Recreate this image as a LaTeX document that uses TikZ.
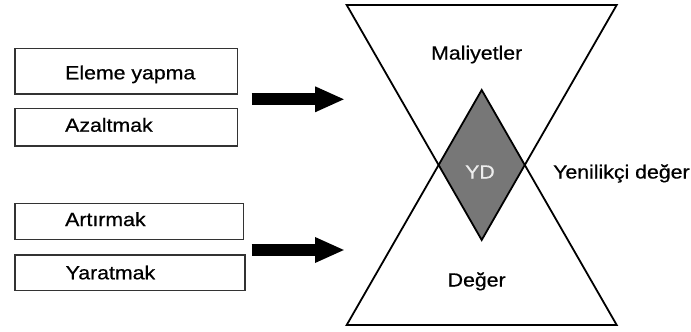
\documentclass[tikz,border=0pt]{standalone}
\usepackage{fontspec}
\setmainfont[FakeStretch=1.12,FakeBold=0.6]{Liberation Sans}
\usetikzlibrary{arrows.meta}
\definecolor{diamondgray}{HTML}{777777}
\definecolor{boxline}{HTML}{333333}
\tikzset{
  labelbox/.style={draw=boxline, line width=1.3pt, fill=white},
  boxtext/.style={anchor=base west, inner sep=0pt, font=\fontsize{19}{21}\selectfont},
  bigtext/.style={anchor=base, inner sep=0pt, font=\fontsize{19}{21}\selectfont},
  fatarrow/.style={line width=12pt, -{Triangle[length=30pt,width=23.5pt]}, shorten >=0pt},
  triline/.style={line width=1.8pt, line join=miter},
}
\begin{document}
\begin{tikzpicture}[x=1pt,y=-1pt]
\useasboundingbox (0,0) rectangle (691,332);
% boxes
\draw[labelbox] (15,48.3) rectangle (237.3,94);
\draw[labelbox] (15,108.3) rectangle (237.3,146);
\draw[labelbox] (15,203.3) rectangle (243.3,239.3);
\draw[labelbox] (15,255) rectangle (245,290.7);
\node[boxtext] (t1) at (65,79.3) {Eleme yapma};
\node[boxtext] (t2) at (65,131.7) {Azaltmak};
\node[boxtext] (t3) at (65,226) {Artırmak};
\node[boxtext] (t4) at (65.5,279.3) {Yaratmak};
% arrows
\coordinate (a1s) at (251.7,99.3);
\coordinate (a1e) at (345,99.3);
\coordinate (a2s) at (251.7,250);
\coordinate (a2e) at (345,250);
\draw[fatarrow] (a1s) -- (a1e);
\draw[fatarrow] (a2s) -- (a2e);
% hourglass
\coordinate (tl) at (346.7,5);
\coordinate (tr) at (616.7,5);
\coordinate (ta) at (481.7,240);
\coordinate (bl) at (346.7,325);
\coordinate (br) at (616.7,325);
\coordinate (ba) at (481.7,90);
\coordinate (dl) at (438.6,165);
\coordinate (dr) at (524.8,165);
\fill[diamondgray] (ba) -- (dr) -- (ta) -- (dl) -- cycle;
\draw[triline] (tl) -- (tr) -- (ta) -- cycle;
\draw[triline] (bl) -- (br) -- (ba) -- cycle;
\node[bigtext] (mal) at (476.7,59.5) {Maliyetler};
\node[bigtext] (deg) at (476.7,286.5) {Değer};
\node[bigtext, text=white!93!black] (yd) at (480,178.5) {YD};
\node[anchor=base west, inner sep=0pt, font=\fontsize{19}{21}\selectfont] (yen) at (553,178.5) {Yenilikçi değer};
\end{tikzpicture}
\end{document}
